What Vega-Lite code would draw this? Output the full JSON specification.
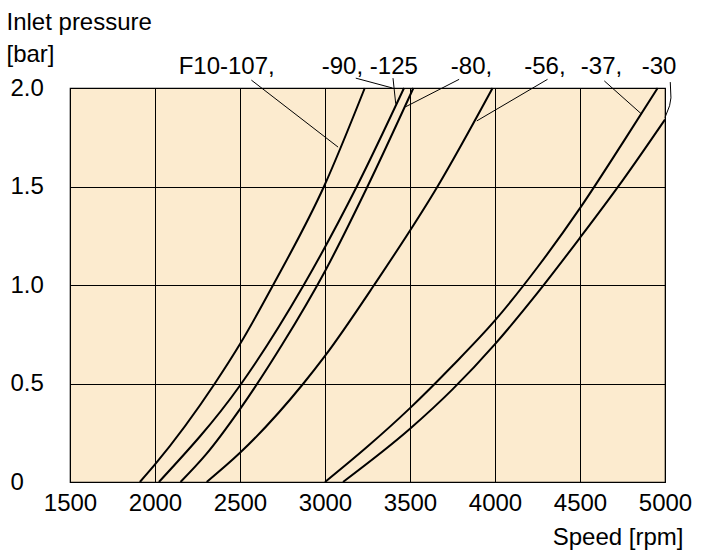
{
  "$schema": "https://vega.github.io/schema/vega-lite/v6.json",
  "width": 595,
  "height": 394,
  "autosize": {"type": "none"},
  "padding": {"left": 70, "top": 88, "right": 38, "bottom": 76},
  "background": "white",
  "config": {
    "view": {"fill": "#FCEBCF", "stroke": "#000", "strokeWidth": 1.2},
    "font": "Liberation Sans",
    "axis": {"labelFont": "Liberation Sans", "titleFont": "Liberation Sans", "labelColor": "#000", "titleColor": "#000"}
  },
  "datasets": {
    "curves": [
      {"model": "F10-107", "rpm": 1911, "bar": 0},
      {"model": "F10-107", "rpm": 2000, "bar": 0.089},
      {"model": "F10-107", "rpm": 2352, "bar": 0.5},
      {"model": "F10-107", "rpm": 2500, "bar": 0.7},
      {"model": "F10-107", "rpm": 2695, "bar": 1.0},
      {"model": "F10-107", "rpm": 2994, "bar": 1.5},
      {"model": "F10-107", "rpm": 3234, "bar": 2.0},
      {"model": "F10-90/-125", "rpm": 2023, "bar": 0},
      {"model": "F10-90/-125", "rpm": 2500, "bar": 0.49},
      {"model": "F10-90/-125", "rpm": 2875, "bar": 1.0},
      {"model": "F10-90/-125", "rpm": 3187, "bar": 1.5},
      {"model": "F10-90/-125", "rpm": 3465, "bar": 2.0},
      {"model": "F10-80", "rpm": 2150, "bar": 0},
      {"model": "F10-80", "rpm": 2300, "bar": 0.14},
      {"model": "F10-80", "rpm": 2500, "bar": 0.37},
      {"model": "F10-80", "rpm": 2750, "bar": 0.7},
      {"model": "F10-80", "rpm": 3000, "bar": 1.07},
      {"model": "F10-80", "rpm": 3250, "bar": 1.5},
      {"model": "F10-80", "rpm": 3520, "bar": 2.0},
      {"model": "F10-56", "rpm": 2304, "bar": 0},
      {"model": "F10-56", "rpm": 2500, "bar": 0.148},
      {"model": "F10-56", "rpm": 2873, "bar": 0.5},
      {"model": "F10-56", "rpm": 3000, "bar": 0.64},
      {"model": "F10-56", "rpm": 3289, "bar": 1.0},
      {"model": "F10-56", "rpm": 3662, "bar": 1.5},
      {"model": "F10-56", "rpm": 3986, "bar": 2.0},
      {"model": "F10-37", "rpm": 3000, "bar": 0},
      {"model": "F10-37", "rpm": 3250, "bar": 0.18},
      {"model": "F10-37", "rpm": 3500, "bar": 0.375},
      {"model": "F10-37", "rpm": 3750, "bar": 0.59},
      {"model": "F10-37", "rpm": 4000, "bar": 0.82},
      {"model": "F10-37", "rpm": 4250, "bar": 1.09},
      {"model": "F10-37", "rpm": 4500, "bar": 1.39},
      {"model": "F10-37", "rpm": 4750, "bar": 1.72},
      {"model": "F10-37", "rpm": 4957, "bar": 2.0},
      {"model": "F10-30", "rpm": 3106, "bar": 0},
      {"model": "F10-30", "rpm": 3500, "bar": 0.27},
      {"model": "F10-30", "rpm": 3750, "bar": 0.47},
      {"model": "F10-30", "rpm": 4000, "bar": 0.7},
      {"model": "F10-30", "rpm": 4250, "bar": 0.96},
      {"model": "F10-30", "rpm": 4500, "bar": 1.24},
      {"model": "F10-30", "rpm": 4750, "bar": 1.53},
      {"model": "F10-30", "rpm": 5000, "bar": 1.84}
    ],
    "leaders": [
      {"id": "107", "ord": 0, "rpm": 2567, "bar": 2.04},
      {"id": "107", "ord": 1, "rpm": 3077, "bar": 1.70},
      {"id": "90", "ord": 0, "rpm": 3181, "bar": 2.05},
      {"id": "90", "ord": 1, "rpm": 3397, "bar": 2.0},
      {"id": "125", "ord": 0, "rpm": 3400, "bar": 2.05},
      {"id": "125", "ord": 1, "rpm": 3416, "bar": 1.92},
      {"id": "80", "ord": 0, "rpm": 3789, "bar": 2.044},
      {"id": "80", "ord": 1, "rpm": 3475, "bar": 1.905},
      {"id": "56", "ord": 0, "rpm": 4309, "bar": 2.044},
      {"id": "56", "ord": 1, "rpm": 3893, "bar": 1.833},
      {"id": "37", "ord": 0, "rpm": 4643, "bar": 2.036},
      {"id": "37", "ord": 1, "rpm": 4863, "bar": 1.867},
      {"id": "30", "ord": 0, "rpm": 5031, "bar": 2.03},
      {"id": "30", "ord": 1, "rpm": 5035, "bar": 1.95},
      {"id": "30", "ord": 2, "rpm": 5027, "bar": 1.91},
      {"id": "30", "ord": 3, "rpm": 5000, "bar": 1.85}
    ],
    "labels": [
      {"label": "F10-107,", "rpm": 2139, "bar": 2.071},
      {"label": "-90, -125", "rpm": 2981, "bar": 2.071},
      {"label": "-80,", "rpm": 3740, "bar": 2.071},
      {"label": "-56,", "rpm": 4172, "bar": 2.071},
      {"label": "-37,", "rpm": 4505, "bar": 2.071},
      {"label": "-30", "rpm": 4863, "bar": 2.071}
    ]
  },
  "layer": [
    {
      "data": {"name": "curves"},
      "mark": {"type": "line", "color": "#000", "strokeWidth": 2, "interpolate": "monotone"},
      "encoding": {
        "x": {
          "field": "rpm", "type": "quantitative",
          "scale": {"domain": [1500, 5000], "nice": false, "zero": false},
          "axis": {
            "values": [1500, 2000, 2500, 3000, 3500, 4000, 4500, 5000],
            "format": "d", "ticks": false, "domain": false, "labelPadding": 9,
            "labelFontSize": 24, "labelFlush": false,
            "grid": true, "gridColor": "#000", "gridOpacity": 1, "gridWidth": 1,
            "title": "Speed [rpm]", "titleFontSize": 24, "titleFontWeight": "normal",
            "titleAnchor": "end", "titleAlign": "right", "titleBaseline": "alphabetic",
            "titleX": 613, "titleY": 62
          }
        },
        "y": {
          "field": "bar", "type": "quantitative",
          "scale": {"domain": [0, 2], "nice": false},
          "axis": {
            "values": [0, 0.5, 1, 1.5, 2],
            "labelExpr": "datum.value == 0 ? '0' : format(datum.value, '.1f')",
            "ticks": false, "domain": false, "labelAlign": "left", "labelPadding": 60,
            "labelFontSize": 24, "labelFlush": false, "labelBaseline": "middle",
            "grid": true, "gridColor": "#000", "gridOpacity": 1, "gridWidth": 1,
            "title": ["Inlet pressure", "[bar]"], "titleFontSize": 24, "titleFontWeight": "normal",
            "titleAngle": 0, "titleAlign": "left", "titleBaseline": "alphabetic",
            "titleLineHeight": 32, "titleX": -64, "titleY": -59
          }
        },
        "detail": {"field": "model"}
      }
    },
    {
      "data": {"name": "leaders"},
      "mark": {"type": "line", "color": "#000", "strokeWidth": 1},
      "encoding": {
        "x": {"field": "rpm", "type": "quantitative"},
        "y": {"field": "bar", "type": "quantitative"},
        "detail": {"field": "id"},
        "order": {"field": "ord"}
      }
    },
    {
      "data": {"name": "labels"},
      "mark": {"type": "text", "align": "left", "baseline": "alphabetic", "fontSize": 24, "color": "#000"},
      "encoding": {
        "x": {"field": "rpm", "type": "quantitative"},
        "y": {"field": "bar", "type": "quantitative"},
        "text": {"field": "label"}
      }
    }
  ]
}
